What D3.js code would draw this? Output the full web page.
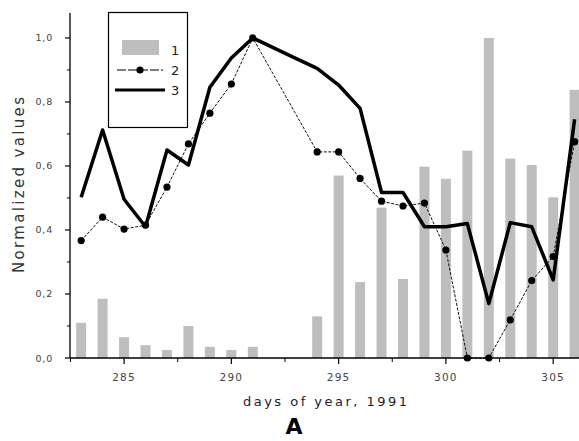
<!DOCTYPE html>
<html><head><meta charset="utf-8">
<script src="https://cdn.jsdelivr.net/npm/d3@7"></script>
<style>
body{margin:0;background:#fff;}
svg{display:block;}
text{font-family:"DejaVu Sans",Verdana,sans-serif;}
</style></head>
<body>
<svg id="c" width="579" height="441"></svg>
<script>
const days = [283,284,285,286,287,288,289,290,291,292,293,294,295,296,297,298,299,300,301,302,303,304,305,306];
const series1 = [0.11,0.185,0.065,0.04,0.025,0.10,0.035,0.025,0.035,null,null,0.13,0.57,0.237,0.47,0.247,0.598,0.56,0.648,1.0,0.623,0.603,0.502,0.838];
const series2 = [0.367,0.44,0.403,0.415,0.534,0.669,0.765,0.856,1.0,null,null,0.644,0.644,0.561,0.49,0.475,0.484,0.3375,0.0,0.0,0.119,0.242,0.317,0.676];
const series3 = [0.502,0.7125,0.496,0.41,0.65,0.603,0.846,0.9375,1.0,0.968,0.936,0.905,0.853,0.78,0.517,0.517,0.41,0.41,0.42,0.17,0.423,0.41,0.244,0.746];
const yTicks = [0,0.2,0.4,0.6,0.8,1.0];
const xTicks = [285,290,295,300,305];
const legendLabels = ["1","2","3"];
const xTitle = "days of year, 1991";
const yTitle = "Normalized values";
const panel = "A";

const svg = d3.select("#c");
const x = d3.scaleLinear().domain([282.48,306.25]).range([70,580]);
const y = d3.scaleLinear().domain([0,1.078]).range([358,13]);

// bars
const bw = 10;
svg.append("g").selectAll("rect")
  .data(days.map((d,i)=>({d,v:series1[i]})).filter(e=>e.v!=null))
  .join("rect")
  .attr("x",e=>x(e.d)-bw/2).attr("width",bw)
  .attr("y",e=>y(e.v)).attr("height",e=>y(0)-y(e.v))
  .attr("fill","#bebebe");

// series 2
const s2 = days.map((d,i)=>({d,v:series2[i]})).filter(e=>e.v!=null);
const line = d3.line().x(e=>x(e.d)).y(e=>y(e.v));
svg.append("path").datum(s2).attr("d",line)
  .attr("fill","none").attr("stroke","#111").attr("stroke-width",1)
  .attr("stroke-dasharray","3,1.5");
svg.append("g").selectAll("circle").data(s2).join("circle")
  .attr("cx",e=>x(e.d)).attr("cy",e=>y(e.v)).attr("r",3.6).attr("fill","#000");

// series 3
const s3 = days.map((d,i)=>({d,v:series3[i]})).filter(e=>e.v!=null);
svg.append("path").datum(s3).attr("d",line)
  .attr("fill","none").attr("stroke","#000").attr("stroke-width",3.5)
  .attr("stroke-linejoin","round");

// axes
const yMinor = d3.range(0.1,1.05,0.2);
const xMinor = [282.5,287.5,292.5,297.5,302.5];
const ya = svg.append("g").attr("transform","translate(70,0)");
ya.append("line").attr("x1",0).attr("x2",0).attr("y1",y(1.078)).attr("y2",y(0)).attr("stroke","#000").attr("stroke-width",1.3);
ya.selectAll(".maj").data(yTicks).join("line").attr("x1",-5).attr("x2",0).attr("y1",d=>y(d)).attr("y2",d=>y(d)).attr("stroke","#000").attr("stroke-width",1.2);
ya.selectAll(".min").data(yMinor).join("line").attr("class","min").attr("x1",-3).attr("x2",0).attr("y1",d=>y(d)).attr("y2",d=>y(d)).attr("stroke","#000");
ya.selectAll("text").data(yTicks).join("text")
  .attr("x",-17).attr("y",d=>y(d)+3.5).attr("text-anchor","end")
  .attr("font-size",9.5).attr("letter-spacing",0.8).attr("fill","#444").text(d=>d.toFixed(1).replace(".",","));

const xa = svg.append("g").attr("transform","translate(0,358)");
xa.append("line").attr("x1",70).attr("x2",579).attr("stroke","#000").attr("stroke-width",1.3);
xa.selectAll(".maj").data(xTicks).join("line").attr("x1",d=>x(d)).attr("x2",d=>x(d)).attr("y1",0).attr("y2",6).attr("stroke","#000").attr("stroke-width",1.2);
xa.selectAll(".min").data(xMinor).join("line").attr("class","min").attr("x1",d=>x(d)).attr("x2",d=>x(d)).attr("y1",0).attr("y2",4).attr("stroke","#000");
xa.selectAll("text").data(xTicks).join("text")
  .attr("x",d=>x(d)).attr("y",23).attr("text-anchor","middle")
  .attr("font-size",10.5).attr("letter-spacing",1.2).attr("fill","#444").text(d=>d);

svg.append("text").attr("x",243).attr("y",406)
  .attr("font-size",13).attr("textLength",164).attr("lengthAdjust","spacing")
  .attr("fill","#222").text(xTitle);
svg.append("text").attr("transform","translate(24,273) rotate(-90)")
  .attr("font-size",15).attr("textLength",176).attr("lengthAdjust","spacing")
  .attr("fill","#333").text(yTitle);
svg.append("text").attr("x",294).attr("y",434).attr("text-anchor","middle")
  .attr("font-family","Liberation Serif, Times New Roman, serif").attr("font-weight","bold")
  .attr("font-size",22).attr("fill","#000").text(panel);

// legend
const lg = svg.append("g");
lg.append("rect").attr("x",108.5).attr("y",12.5).attr("width",79).attr("height",115)
  .attr("fill","#fff").attr("stroke","#000").attr("stroke-width",1.2);
lg.append("rect").attr("x",122).attr("y",40).attr("width",37).attr("height",15).attr("fill","#bebebe");
lg.append("line").attr("x1",117).attr("x2",163).attr("y1",70).attr("y2",70).attr("stroke","#000").attr("stroke-dasharray","9,2");
lg.append("circle").attr("cx",140).attr("cy",70).attr("r",3.6).attr("fill","#000");
lg.append("line").attr("x1",115).attr("x2",165).attr("y1",90).attr("y2",90).attr("stroke","#000").attr("stroke-width",3);
lg.selectAll("text").data(legendLabels).join("text")
  .attr("x",171).attr("y",(d,i)=>[55,75,95][i]).attr("font-size",13).attr("fill","#222").text(d=>d);
</script>
</body></html>
